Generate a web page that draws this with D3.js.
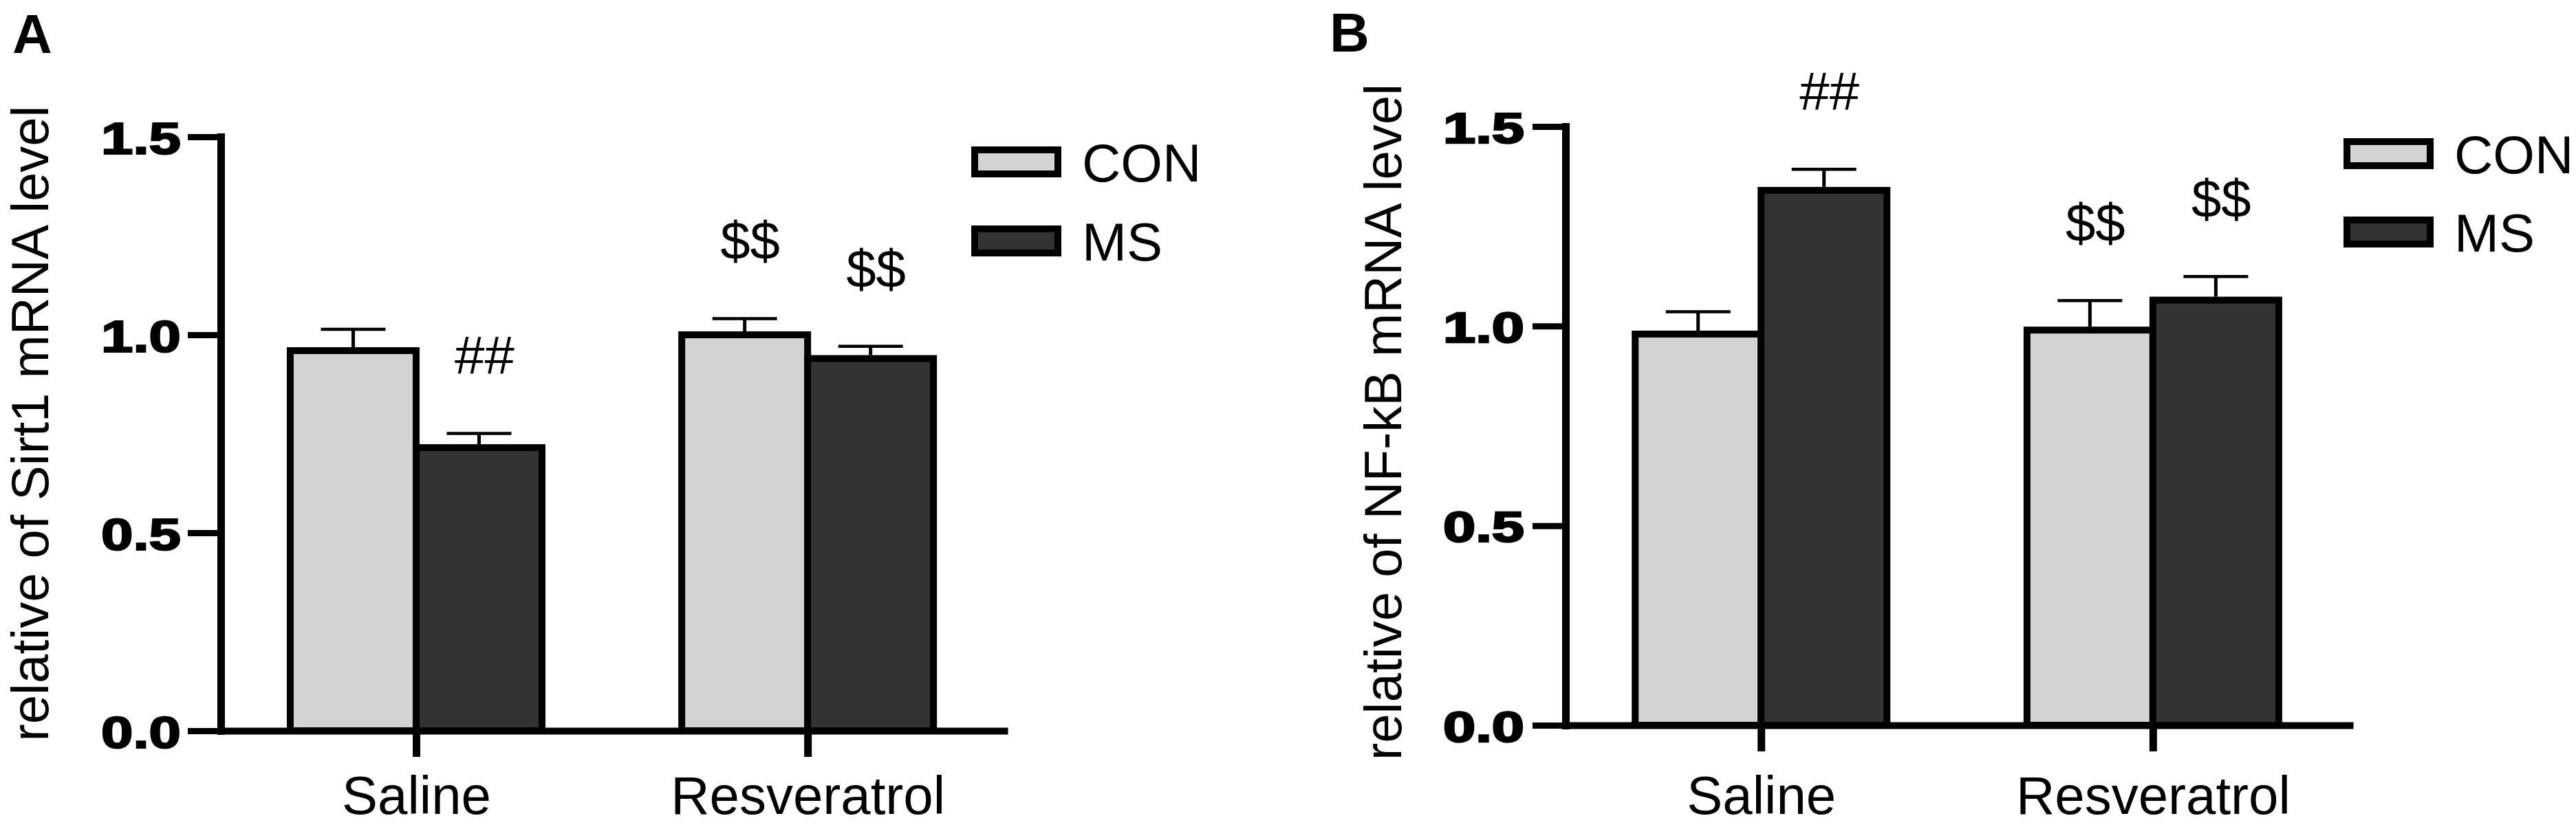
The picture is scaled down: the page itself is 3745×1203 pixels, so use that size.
<!DOCTYPE html>
<html>
<head>
<meta charset="utf-8">
<script src="https://cdn.jsdelivr.net/npm/d3@7"></script>
<style>
  html, body { margin: 0; padding: 0; background: #ffffff; }
  svg { display: block; }
</style>
</head>
<body>
<svg id="chart" width="3745" height="1203"></svg>
<script>
// ---------- data ----------
const groups = ["Saline", "Resveratrol"];
const series = ["CON", "MS"];
const yTicks = [0, 0.5, 1.0, 1.5];

const sirt1CON = [0.96, 1.00];
const sirt1MS = [0.715, 0.94];
const sirt1ConSem = [0.054, 0.041];
const sirt1MsSem = [0.036, 0.031];
const sirt1ConMarks = ["", "$$"];
const sirt1MsMarks = ["##", "$$"];

const nfkbCON = [0.98, 0.99];
const nfkbMS = [1.34, 1.065];
const nfkbConSem = [0.056, 0.074];
const nfkbMsSem = [0.053, 0.059];
const nfkbConMarks = ["", "$$"];
const nfkbMsMarks = ["##", "$$"];

const panelLabels = ["A", "B"];
const yTitles = ["relative of Sirt1 mRNA level", "relative of NF-kB mRNA level"];

// ---------- style / layout ----------
const fills = { CON: "#d3d3d3", MS: "#333333" };
const FONT = "'Liberation Sans', Arial, Helvetica, sans-serif";

const layouts = [
  { axisX: 321, axisEnd: 1465, yZero: 1063, yTop: 199, titleX: 70, titleY: 616,
    labelX: 18, labelY: 77, legendX: 1412, legendY: 213, legendStep: 115,
    tickFontSize: 65, tickLen: 116, tickAdjust: "spacingAndGlyphs", tickStroke: 2.2, tickPad: 10 },
  { axisX: 2276, axisEnd: 3421, yZero: 1055, yTop: 184, titleX: 2037, titleY: 614,
    labelX: 1933, labelY: 75, legendX: 3407, legendY: 201, legendStep: 114,
    tickFontSize: 63, tickLen: 118, tickAdjust: "spacingAndGlyphs", tickStroke: 2.5, tickPad: 12 }
];

const panelData = [
  { con: sirt1CON, ms: sirt1MS, conSem: sirt1ConSem, msSem: sirt1MsSem, conMarks: sirt1ConMarks, msMarks: sirt1MsMarks },
  { con: nfkbCON, ms: nfkbMS, conSem: nfkbConSem, msSem: nfkbMsSem, conMarks: nfkbConMarks, msMarks: nfkbMsMarks }
];

const svg = d3.select("#chart");
svg.append("rect").attr("width", 3745).attr("height", 1203).attr("fill", "#fff");

const BAR_W = 183;
const BAR_STROKE = 10;

panelData.forEach((pd, pi) => {
  const L = layouts[pi];
  const g = svg.append("g");

  const y = d3.scaleLinear().domain([0, 1.5]).range([L.yZero, L.yTop]);
  const x = d3.scalePoint().domain(groups).range([L.axisX, L.axisEnd]).padding(0.505).align(0.494);
  const xs = d3.scaleBand().domain(series).range([-BAR_W, BAR_W]);

  const rows = [];
  groups.forEach((grp, gi) => {
    rows.push({ grp, s: "CON", v: pd.con[gi], sem: pd.conSem[gi], mark: pd.conMarks[gi] });
    rows.push({ grp, s: "MS", v: pd.ms[gi], sem: pd.msSem[gi], mark: pd.msMarks[gi] });
  });

  // bars
  g.selectAll("rect.bar").data(rows).join("rect")
    .attr("class", "bar")
    .attr("x", d => x(d.grp) + xs(d.s))
    .attr("y", d => y(d.v))
    .attr("width", xs.bandwidth())
    .attr("height", d => y(0) - y(d.v))
    .attr("fill", d => fills[d.s])
    .attr("stroke", "#000")
    .attr("stroke-width", BAR_STROKE);

  // error bars (upper only)
  const cx = d => x(d.grp) + xs(d.s) + xs.bandwidth() / 2;
  g.selectAll("line.err").data(rows).join("line")
    .attr("x1", cx).attr("x2", cx)
    .attr("y1", d => y(d.v) - BAR_STROKE / 2)
    .attr("y2", d => y(d.v + d.sem))
    .attr("stroke", "#000").attr("stroke-width", 5);
  g.selectAll("line.cap").data(rows).join("line")
    .attr("x1", d => cx(d) - 47).attr("x2", d => cx(d) + 47)
    .attr("y1", d => y(d.v + d.sem)).attr("y2", d => y(d.v + d.sem))
    .attr("stroke", "#000").attr("stroke-width", 4.5);

  // significance marks
  g.selectAll("text.mark").data(rows.filter(d => d.mark)).join("text")
    .attr("x", d => cx(d) + 8)
    .attr("y", d => y(d.v + d.sem) - 86)
    .attr("text-anchor", "middle")
    .attr("font-family", FONT)
    .attr("font-size", 78)
    .attr("fill", "#000")
    .text(d => d.mark);

  // y axis
  const yAxis = d3.axisLeft(y).tickValues(yTicks).tickFormat(d3.format(".1f"))
    .tickSize(48).tickSizeOuter(0).tickPadding(L.tickPad);
  const ya = g.append("g").attr("transform", `translate(${L.axisX},0)`).call(yAxis);
  ya.select(".domain").attr("stroke", "#000").attr("stroke-width", 11).attr("stroke-linecap", "square");
  ya.selectAll(".tick line").attr("stroke", "#000").attr("stroke-width", 9);
  ya.selectAll(".tick text")
    .attr("font-family", FONT).attr("font-weight", "bold")
    .attr("font-size", L.tickFontSize).attr("fill", "#000")
    .attr("dy", "0.37em")
    .attr("textLength", L.tickLen).attr("lengthAdjust", L.tickAdjust)
    .attr("stroke", L.tickStroke ? "#000" : "none").attr("stroke-width", L.tickStroke);

  // x axis
  const xAxis = d3.axisBottom(x).tickSize(38).tickSizeOuter(0).tickPadding(0);
  const xa = g.append("g").attr("transform", `translate(0,${L.yZero})`).call(xAxis);
  xa.select(".domain").attr("stroke", "#000").attr("stroke-width", 10);
  xa.selectAll(".tick line").attr("stroke", "#000").attr("stroke-width", 11);
  xa.selectAll(".tick text")
    .attr("font-family", FONT).attr("font-size", 78).attr("fill", "#000")
    .attr("y", 1184 - L.yZero).attr("dy", 0);

  // y title
  g.append("text")
    .attr("transform", `translate(${L.titleX},${L.titleY}) rotate(-90)`)
    .attr("text-anchor", "middle")
    .attr("font-family", FONT).attr("font-size", 76).attr("fill", "#000")
    .text(yTitles[pi]);

  // panel label
  g.append("text")
    .attr("x", L.labelX).attr("y", L.labelY)
    .attr("font-family", FONT).attr("font-weight", "bold").attr("font-size", 80).attr("fill", "#000")
    .text(panelLabels[pi]);

  // legend
  const lg = g.append("g");
  series.forEach((s, si) => {
    const top = L.legendY + si * L.legendStep;
    lg.append("rect")
      .attr("x", L.legendX + 5).attr("y", top + 5)
      .attr("width", 121).attr("height", 35)
      .attr("fill", fills[s]).attr("stroke", "#000").attr("stroke-width", 10);
    lg.append("text")
      .attr("x", L.legendX + 161).attr("y", top + 22.5 + 28)
      .attr("font-family", FONT).attr("font-size", 78).attr("fill", "#000")
      .text(s);
  });
});
</script>
</body>
</html>
